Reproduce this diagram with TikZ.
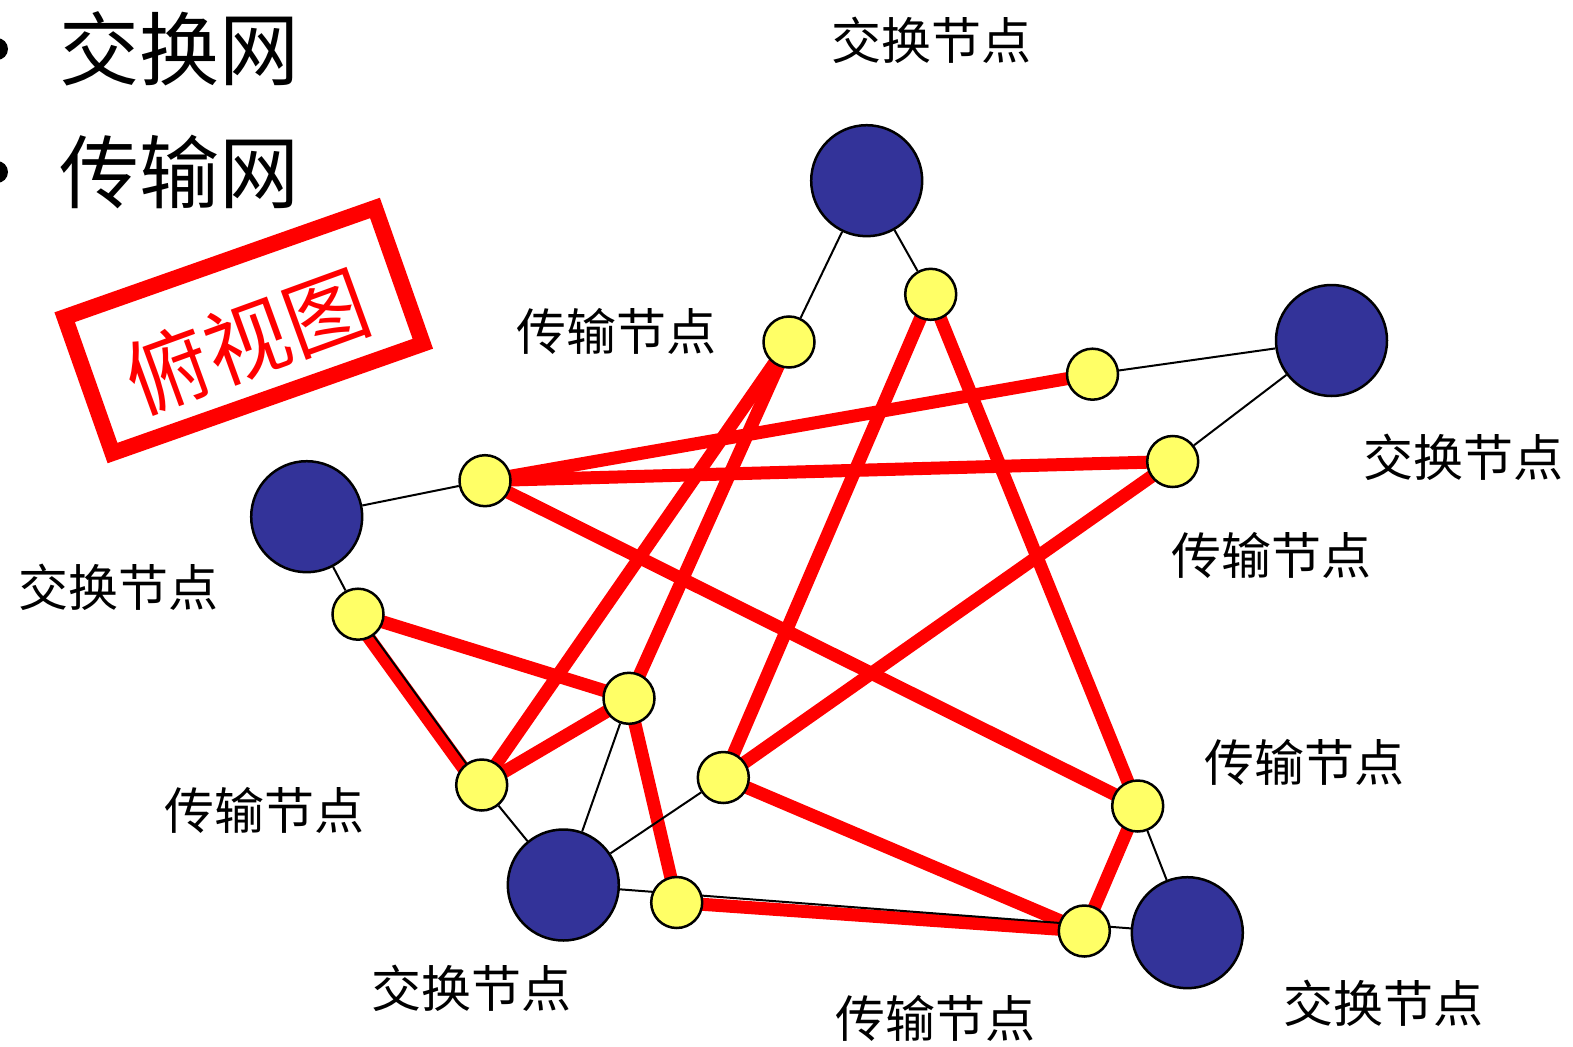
\documentclass[tikz,border=0pt]{standalone}
\usepackage{fontspec}
\newfontfamily\cjk{Noto Sans CJK SC}
\definecolor{nodeblue}{RGB}{51,51,153}
\definecolor{nodeyellow}{RGB}{255,255,102}
\pgfdeclarelayer{bg}
\pgfsetlayers{bg,main}
\begin{document}
\begin{tikzpicture}[x=1pt,y=-1pt,
  big/.style={circle,draw=black,line width=2.5pt,fill=nodeblue,minimum size=111pt,inner sep=0pt},
  small/.style={circle,draw=black,line width=2.5pt,fill=nodeyellow,minimum size=51pt,inner sep=0pt},
  trunk/.style={line width=13pt,draw=red},
  link/.style={line width=2pt,draw=black},
  lbl/.style={font=\cjk\fontsize{50}{50}\selectfont,inner sep=0pt},
  title/.style={font=\cjk\fontsize{80}{80}\selectfont,inner sep=0pt},
  dot/.style={circle,fill=black,minimum size=22pt,inner sep=0pt}]
\useasboundingbox (0,0) rectangle (1573,1046);

% bullets and titles
\node[dot] (b1) at (-3,49) {};
\node[dot] (b2) at (-3,172) {};
\node[title] (t1) at (179,49) {交换网};
\node[title] (t2) at (179,172) {传输网};

% stamp frame and its text
\draw[red,line width=16pt,rotate around={19.4:(243.75,330.5)}]
  (79.25,258.5) rectangle (408.25,402.5);
\node[font=\cjk\fontsize{84}{84}\selectfont,text=red,inner sep=0pt,rotate=20] (stamptext) at (247,341) {俯视图};

% switching nodes
\node[big] (A) at (866.7,180.7) {};
\node[big] (B) at (1331.5,340.5) {};
\node[big] (C) at (306.7,516.7) {};
\node[big] (D) at (563.3,885) {};
\node[big] (E) at (1187.3,932.7) {};

% transmission nodes
\node[small] (y1) at (789,342) {};
\node[small] (y2) at (930.7,294.3) {};
\node[small] (y3) at (1092.5,374.2) {};
\node[small] (y4) at (1172.7,461.5) {};
\node[small] (y5) at (485,480.7) {};
\node[small] (y6) at (358,614.2) {};
\node[small] (y7) at (629,698.3) {};
\node[small] (y8) at (481.7,785) {};
\node[small] (y9) at (723.3,777.5) {};
\node[small] (y10) at (676.7,902.5) {};
\node[small] (y11) at (1137.7,806) {};
\node[small] (y12) at (1084.3,931) {};

\begin{pgfonlayer}{bg}
  % red trunk lines
  \draw[trunk] (y5.center) -- (y3.center);
  \draw[trunk] (y5.center) -- (y4.center);
  \draw[trunk] (y5.center) -- (y11.center);
  \draw[trunk] (y1.center) -- (y8.center);
  \draw[trunk] (y1.center) -- (y7.center);
  \draw[trunk] (y2.center) -- (y9.center);
  \draw[trunk] (y2.center) -- (y11.center);
  \draw[trunk] (y4.center) -- (y9.center);
  \draw[trunk] (y6.center) -- (y7.center);
  \draw[trunk] ([shift={(-4,3)}]y6.center) -- ([shift={(-4,3)}]y8.center);
  \draw[trunk] (y8.center) -- (y7.center);
  \draw[trunk] (y7.center) -- (y10.center);
  \draw[trunk] (y9.center) -- (y12.center);
  \draw[trunk] (y10.center) -- (y12.center);
  \draw[trunk] (y11.center) -- (y12.center);
  % thin access lines
  \draw[link] (A) -- (y1);
  \draw[link] (A) -- (y2);
  \draw[link] (B) -- (y3);
  \draw[link] (B) -- (y4);
  \draw[link] (C) -- (y5);
  \draw[link] (C) -- (y6);
  \draw[link] (y6.center) -- (y8.center);
  \draw[link] (y8) -- (D);
  \draw[link] (D) -- (y7);
  \draw[link] (D) -- (y9);
  \draw[link] (D.center) -- (E.center);
  \draw[link] (E) -- (y11);
\end{pgfonlayer}

% labels
\node[lbl] (l1) at (931.5,40) {交换节点};
\node[lbl] (l2) at (616,331) {传输节点};
\node[lbl] (l3) at (1463,457) {交换节点};
\node[lbl] (l4) at (1271,555) {传输节点};
\node[lbl] (l5) at (118.4,587) {交换节点};
\node[lbl] (l6) at (1304,762) {传输节点};
\node[lbl] (l7) at (264,810.6) {传输节点};
\node[lbl] (l8) at (471.5,988) {交换节点};
\node[lbl] (l9) at (935,1018) {传输节点};
\node[lbl] (l10) at (1383,1003) {交换节点};
\end{tikzpicture}
\end{document}
